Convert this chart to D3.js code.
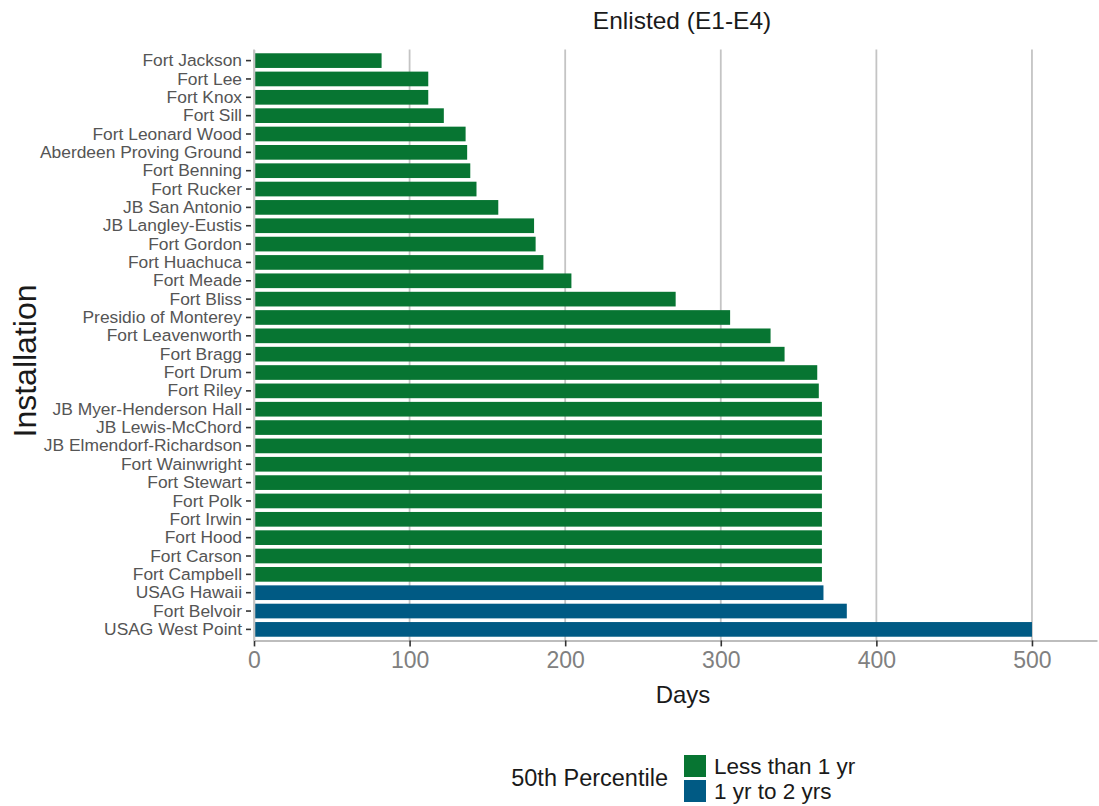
<!DOCTYPE html>
<html>
<head>
<meta charset="utf-8">
<script src="https://cdn.jsdelivr.net/npm/d3@7"></script>
<style>
  html, body { margin: 0; padding: 0; background: #fff; }
  svg { display: block; font-family: "Liberation Sans", Arial, sans-serif; }
</style>
</head>
<body>
<svg id="chart" width="1099" height="806"></svg>
<script>
const categories = [
  "Fort Jackson", "Fort Lee", "Fort Knox", "Fort Sill", "Fort Leonard Wood",
  "Aberdeen Proving Ground", "Fort Benning", "Fort Rucker", "JB San Antonio",
  "JB Langley-Eustis", "Fort Gordon", "Fort Huachuca", "Fort Meade", "Fort Bliss",
  "Presidio of Monterey", "Fort Leavenworth", "Fort Bragg", "Fort Drum", "Fort Riley",
  "JB Myer-Henderson Hall", "JB Lewis-McChord", "JB Elmendorf-Richardson",
  "Fort Wainwright", "Fort Stewart", "Fort Polk", "Fort Irwin", "Fort Hood",
  "Fort Carson", "Fort Campbell", "USAG Hawaii", "Fort Belvoir", "USAG West Point"
];
const days = [
  82, 112, 112, 122, 136,
  137, 139, 143, 157,
  180, 181, 186, 204, 271,
  306, 332, 341, 362, 363,
  365, 365, 365,
  365, 365, 365, 365, 365,
  365, 365, 366, 381, 500
];
const groups = [
  "Less than 1 yr", "Less than 1 yr", "Less than 1 yr", "Less than 1 yr", "Less than 1 yr",
  "Less than 1 yr", "Less than 1 yr", "Less than 1 yr", "Less than 1 yr",
  "Less than 1 yr", "Less than 1 yr", "Less than 1 yr", "Less than 1 yr", "Less than 1 yr",
  "Less than 1 yr", "Less than 1 yr", "Less than 1 yr", "Less than 1 yr", "Less than 1 yr",
  "Less than 1 yr", "Less than 1 yr", "Less than 1 yr",
  "Less than 1 yr", "Less than 1 yr", "Less than 1 yr", "Less than 1 yr", "Less than 1 yr",
  "Less than 1 yr", "Less than 1 yr", "1 yr to 2 yrs", "1 yr to 2 yrs", "1 yr to 2 yrs"
];
const legendKeys = ["Less than 1 yr", "1 yr to 2 yrs"];
const legendColors = ["#077532", "#005a84"];
const xTicks = [0, 100, 200, 300, 400, 500];
const titleText = "Enlisted (E1-E4)";
const xTitle = "Days";
const yTitle = "Installation";
const legendTitle = "50th Percentile";

const data = categories.map((c, i) => ({ name: c, value: days[i], group: groups[i] }));

const svg = d3.select("#chart");
const panel = { left: 254, right: 1097, top: 49.6, bottom: 640.4 };

const x = d3.scaleLinear().domain([0, 541.8]).range([panel.left, panel.right]);
const y = d3.scaleBand().domain(categories).range([panel.top, panel.bottom])
  .paddingInner(0.2).paddingOuter(0.2);
const color = d3.scaleOrdinal().domain(legendKeys).range(legendColors);

// gridlines
svg.append("g").selectAll("line").data(xTicks).join("line")
  .attr("x1", d => x(d)).attr("x2", d => x(d))
  .attr("y1", panel.top).attr("y2", panel.bottom)
  .attr("stroke", "#c4c4c4").attr("stroke-width", 1.8);

// bars
svg.append("g").selectAll("rect").data(data).join("rect")
  .attr("x", x(0))
  .attr("y", d => y(d.name))
  .attr("width", d => x(d.value) - x(0))
  .attr("height", y.bandwidth())
  .attr("fill", d => color(d.group));

// x axis
const xAxis = svg.append("g")
  .attr("transform", `translate(0,${panel.bottom})`)
  .call(d3.axisBottom(x).tickValues(xTicks).tickSize(6).tickPadding(5).tickSizeOuter(0));
xAxis.select(".domain").attr("stroke", "#bdbdbd").attr("stroke-width", 2);
xAxis.selectAll(".tick line").attr("stroke", "#333").attr("stroke-width", 1.6);
xAxis.selectAll(".tick text").attr("fill", "#808080")
  .style("font-size", "23px").style("font-family", "Liberation Sans, Arial, sans-serif");

// y axis
const yAxis = svg.append("g")
  .attr("transform", `translate(${panel.left},0)`)
  .call(d3.axisLeft(y).tickSize(5).tickPadding(4).tickSizeOuter(0));
yAxis.select(".domain").attr("stroke", "#c4c4c4").attr("stroke-width", 1.6);
yAxis.selectAll(".tick line").attr("stroke", "#333").attr("stroke-width", 1.6)
  .attr("x1", -8).attr("x2", -3);
yAxis.selectAll(".tick text").attr("fill", "#555").attr("x", -12)
  .style("font-size", "17.4px").style("font-family", "Liberation Sans, Arial, sans-serif");

// title
svg.append("text")
  .attr("x", 682).attr("y", 29)
  .attr("text-anchor", "middle").attr("fill", "#1a1a1a")
  .style("font-size", "24.5px").text(titleText);

// axis titles
svg.append("text")
  .attr("x", 683).attr("y", 703)
  .attr("text-anchor", "middle").attr("fill", "#1a1a1a")
  .style("font-size", "24px").text(xTitle);

svg.append("text")
  .attr("transform", `translate(36,${(panel.top + panel.bottom) / 2 + 16}) rotate(-90)`)
  .attr("text-anchor", "middle").attr("fill", "#1a1a1a")
  .style("font-size", "32px").text(yTitle);

// legend
const lg = svg.append("g");
lg.append("text").attr("x", 668).attr("y", 786).attr("text-anchor", "end")
  .attr("fill", "#1a1a1a").style("font-size", "23.5px").text(legendTitle);
const items = lg.selectAll("g.item").data(legendKeys).join("g").attr("class", "item")
  .attr("transform", (d, i) => `translate(684,${755 + i * 25})`);
items.append("rect").attr("width", 22).attr("height", 22).attr("fill", d => color(d));
items.append("text").attr("x", 30).attr("y", 19).attr("fill", "#1a1a1a")
  .style("font-size", "22.5px").text(d => d);
</script>
</body>
</html>
